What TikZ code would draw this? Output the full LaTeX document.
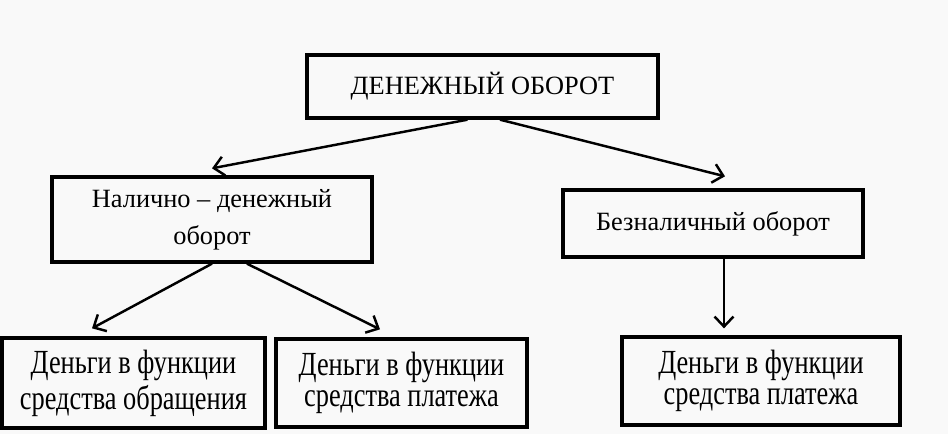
\documentclass[tikz,border=0pt]{standalone}
\usepackage{fontspec}
\setmainfont{Liberation Serif}
\usepackage{tikz}
\usetikzlibrary{arrows.meta}

\definecolor{paper}{RGB}{249,249,249}
\newcommand{\tallline}[1]{\scalebox{1}[1.28]{#1}}

\begin{document}
\begin{tikzpicture}[>={Straight Barb[length=2mm,width=3.8mm]},semithick,align=center,
        box/.style={draw,line width=1.9pt,inner sep=0pt,font=\fontsize{15}{19.9}\selectfont},
        leaf/.style={box,font=\fontsize{15}{15.9}\selectfont},
        arr/.style={->,line width=1.4pt}]
        \fill[paper] (0,0) rectangle (18.96,-8.68);
        \useasboundingbox (0,0) rectangle (18.96,-8.68);

        \node[box,minimum width=7.02cm,minimum height=1.26cm] (top) at (9.65,-1.73) {ДЕНЕЖНЫЙ ОБОРОТ};
        \node[box,minimum width=6.4cm,minimum height=1.7cm] (cash) at (4.24,-4.39) {Налично – денежный\\[1pt]оборот};
        \node[box,minimum width=6cm,minimum height=1.34cm] (noncash) at (14.26,-4.47) {Безналичный оборот};
        \node[leaf,minimum width=5.26cm,minimum height=1.8cm] (circ) at (2.67,-7.66) {\tallline{Деньги в функции}\\[1.5pt]\tallline{средства обращения}};
        \node[leaf,minimum width=5.02cm,minimum height=1.76cm] (pay1) at (8.03,-7.66) {\tallline{Деньги в функции}\\[1.5pt]\tallline{средства платежа}};
        \node[leaf,minimum width=5.56cm,minimum height=1.76cm] (pay2) at (15.22,-7.62) {\tallline{Деньги в функции}\\[1.5pt]\tallline{средства платежа}};

        \draw[arr] ([xshift=-0.3cm]top.south) -- ([yshift=0.14cm]cash.north);
        \draw[arr] ([xshift=0.35cm]top.south) -- ([xshift=0.24cm,yshift=0.24cm]noncash.north);
        \draw[arr] (cash.south) -- ([xshift=-0.83cm,yshift=0.16cm]circ.north);
        \draw[arr] ([xshift=0.7cm]cash.south) -- ([xshift=-0.43cm,yshift=0.16cm]pay1.north);
        \draw[arr] ([xshift=0.22cm]noncash.south) -- ([xshift=-0.74cm,yshift=0.14cm]pay2.north);
\end{tikzpicture}
\end{document}
